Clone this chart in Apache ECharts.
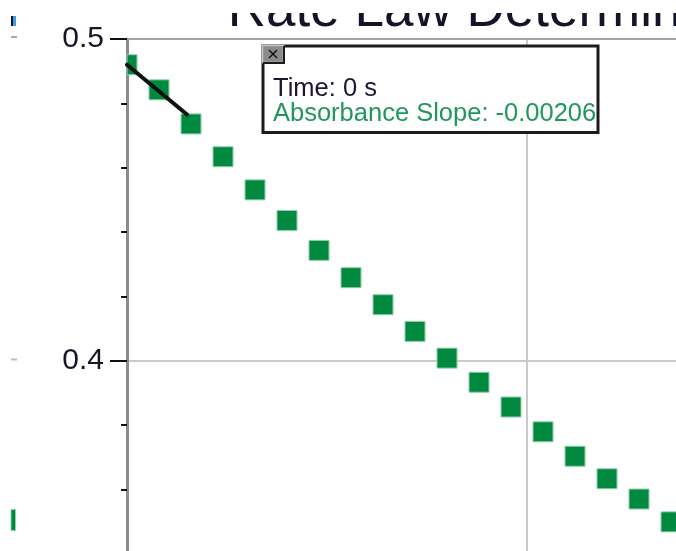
<!DOCTYPE html>
<html>
<head>
<meta charset="utf-8">
<script src="https://cdn.jsdelivr.net/npm/echarts@6/dist/echarts.min.js"></script>
<style>
  html, body { margin: 0; padding: 0; background: #ffffff; }
  #chart { width: 676px; height: 551px; }
</style>
</head>
<body>
<div id="chart"></div>
<script>
// Absorbance readings, one every 4 s
const timeSeconds = [0, 4, 8, 12, 16, 20, 24, 28, 32, 36, 40, 44, 48, 52, 56, 60, 64, 68];
const absorbance = [0.4920, 0.4842, 0.4736, 0.4634, 0.4531, 0.4436, 0.4343, 0.4258, 0.4174,
                    0.4091, 0.4008, 0.3933, 0.3856, 0.3779, 0.3703, 0.3633, 0.3570, 0.3499];

// Tangent (slope) line over the selected range
const slopeRange = [0, 7.5];
const slopeIntercept = 0.4920;
const slopeValue = -0.00206;
const slopeTime = 0;

const titleText = 'Rate Law Determination';
const yTickValues = [0.3, 0.4, 0.5];
const xRange = [0, 100];

const pointData = timeSeconds.map((t, i) => [t, absorbance[i]]);
const slopeLine = slopeRange.map(t => [t, slopeIntercept + slopeValue * t]);

const FONT = '"Liberation Sans", Arial, sans-serif';

const chart = echarts.init(document.getElementById('chart'), null, { renderer: 'canvas' });

chart.setOption({
  animation: false,
  backgroundColor: '#ffffff',
  // the plot continues past the right and bottom edges of the window
  grid: { left: 127, top: 39, width: 800, height: 643.4, containLabel: false, outerBoundsMode: 'none' },
  xAxis: {
    type: 'value', min: xRange[0], max: xRange[1], interval: 50,
    axisLine: { show: false }, axisTick: { show: false }, axisLabel: { show: false },
    splitLine: { show: true, lineStyle: { color: '#c9c9c9', width: 2 } }
  },
  yAxis: {
    type: 'value', min: yTickValues[0], max: yTickValues[yTickValues.length - 1], interval: 0.1,
    axisLine: { show: true, lineStyle: { color: '#8c8c8c', width: 3 } },
    axisTick: { show: true, length: 17, lineStyle: { color: '#111111', width: 2 } },
    minorTick: { show: true, splitNumber: 5, length: 6, lineStyle: { color: '#111111', width: 2 } },
    axisLabel: {
      show: true, margin: 23, fontSize: 30, fontFamily: FONT, color: '#16162a',
      formatter: v => v.toFixed(1)
    },
    splitLine: { show: true, lineStyle: { color: '#c9c9c9', width: 2 } },
    minorSplitLine: { show: false }
  },
  series: [
    {
      type: 'custom',
      name: 'Absorbance',
      data: pointData,
      z: 2,
      renderItem: function (params, api) {
        const p = api.coord([api.value(0), api.value(1)]);
        const size = 20;
        const cs = params.coordSys;
        const shape = echarts.graphic.clipRectByRect(
          { x: p[0] - size / 2, y: p[1] - size / 2, width: size, height: size },
          { x: cs.x, y: cs.y, width: cs.width, height: cs.height }
        );
        if (!shape) return null;
        return {
          type: 'rect',
          shape: shape,
          style: { fill: '#00893f', stroke: '#8fd1ab', lineWidth: 1 }
        };
      }
    },
    {
      type: 'line',
      name: 'Slope',
      data: slopeLine,
      symbol: 'none',
      z: 3,
      lineStyle: { color: '#111111', width: 4, cap: 'round' }
    }
  ],
  graphic: [
    // chart title (its upper part is hidden behind the header strip)
    {
      type: 'text', z: 20, x: 227.8, y: 38,
      style: { text: titleText, font: '53px ' + FONT, fill: '#141428', textVerticalAlign: 'bottom' }
    },
    { type: 'rect', z: 21, shape: { x: 150, y: 0, width: 526, height: 13 }, style: { fill: '#ffffff' } },
    // top frame line
    { type: 'line', z: 10, shape: { x1: 127, y1: 39, x2: 676, y2: 39 }, style: { stroke: '#a4a4a4', lineWidth: 2 } },
    // examine box
    { type: 'rect', z: 30, shape: { x: 263, y: 46, width: 335, height: 86.5 }, style: { fill: '#ffffff', stroke: '#1c1c1c', lineWidth: 3 } },
    { type: 'rect', z: 31, shape: { x: 262, y: 45, width: 22, height: 18 }, style: { fill: '#ffffff', stroke: null } },
    { type: 'rect', z: 32, shape: { x: 262.5, y: 45.5, width: 21, height: 17 }, style: { fill: '#8a8a8a', stroke: '#c4c4c4', lineWidth: 1.5 } },
    { type: 'line', z: 33, shape: { x1: 269, y1: 50, x2: 277, y2: 58 }, style: { stroke: '#111111', lineWidth: 1.5 } },
    { type: 'line', z: 33, shape: { x1: 277, y1: 50, x2: 269, y2: 58 }, style: { stroke: '#111111', lineWidth: 1.5 } },
    { type: 'line', z: 33, shape: { x1: 284, y1: 46, x2: 284, y2: 63 }, style: { stroke: '#1c1c1c', lineWidth: 2 } },
    { type: 'line', z: 33, shape: { x1: 263, y1: 63, x2: 285, y2: 63 }, style: { stroke: '#1c1c1c', lineWidth: 2 } },
    {
      type: 'text', z: 34, x: 273, y: 89,
      style: { text: 'Time: ' + slopeTime + ' s', font: '25.5px ' + FONT, fill: '#1e1236', textVerticalAlign: 'middle' }
    },
    {
      type: 'text', z: 34, x: 273, y: 114,
      style: { text: 'Absorbance Slope: ' + slopeValue.toFixed(5), font: '25.5px ' + FONT, fill: '#21965f', textVerticalAlign: 'middle' }
    },
    // edge of the neighbouring graph pane
    { type: 'rect', z: 40, shape: { x: 11, y: 16, width: 2.5, height: 10 }, style: { fill: '#101830' } },
    { type: 'rect', z: 40, shape: { x: 13.5, y: 16, width: 2.5, height: 10 }, style: { fill: '#3c9be6' } },
    { type: 'rect', z: 40, shape: { x: 11, y: 36, width: 6, height: 2 }, style: { fill: '#a8a8a8' } },
    { type: 'rect', z: 40, shape: { x: 11, y: 358.5, width: 6, height: 2 }, style: { fill: '#bdbdbd' } },
    { type: 'rect', z: 40, shape: { x: 11, y: 509.5, width: 4.5, height: 21 }, style: { fill: '#00893f', stroke: '#8fd1ab', lineWidth: 1 } }
  ]
});
</script>
</body>
</html>
